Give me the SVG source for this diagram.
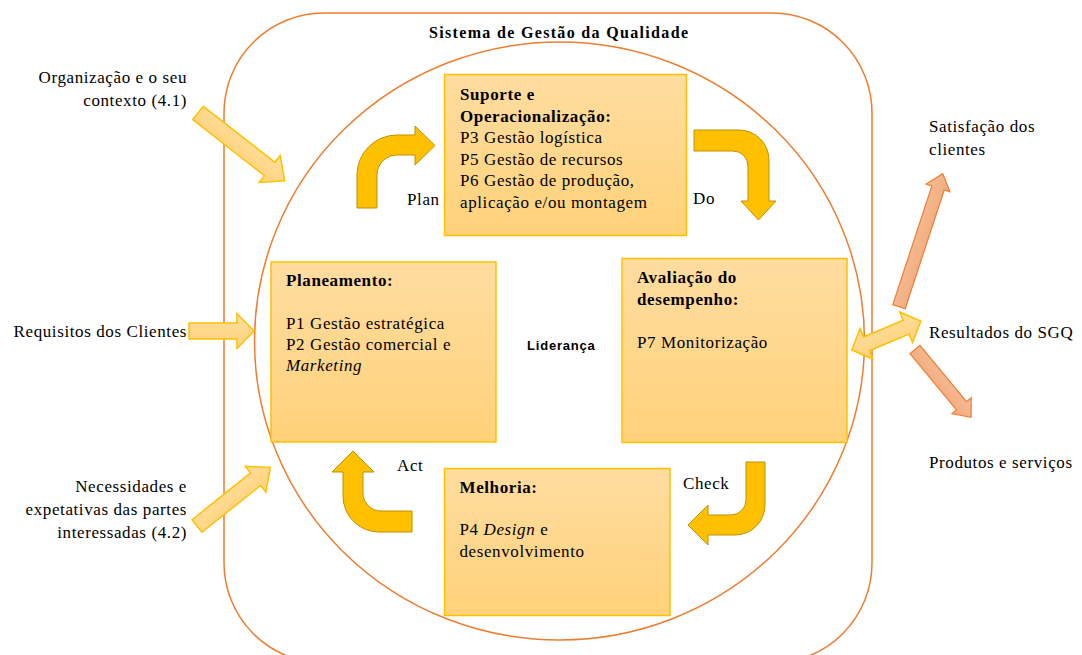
<svg xmlns="http://www.w3.org/2000/svg" width="1082" height="655" viewBox="0 0 1082 655">
  <defs>
    <linearGradient id="boxFill" x1="0" y1="0" x2="0" y2="1">
      <stop offset="0" stop-color="#FFDDA0"/>
      <stop offset="1" stop-color="#FFD27A"/>
    </linearGradient>
    <linearGradient id="inFill" x1="0" y1="0" x2="0" y2="1">
      <stop offset="0" stop-color="#FFDE9C"/>
      <stop offset="1" stop-color="#FFD27C"/>
    </linearGradient>
    <linearGradient id="outFill" x1="0" y1="0" x2="0" y2="1">
      <stop offset="0" stop-color="#F6BC95"/>
      <stop offset="1" stop-color="#F2AA7C"/>
    </linearGradient>
    <style>
      .frame { fill: none; stroke: #ED7D31; stroke-width: 1.5; }
      .box { fill: url(#boxFill); stroke: #FFC000; stroke-width: 1.5; }
      .cycle { fill: #FFC000; stroke: #BF9000; stroke-width: 1; }
      .input { fill: url(#inFill); stroke: #FFC000; stroke-width: 1.5; }
      .output { fill: url(#outFill); stroke: #ED7D31; stroke-width: 1.2; }
      text { font-family: "Liberation Serif", "Times New Roman", serif; font-size: 17px; letter-spacing: 0.6px; fill: #000; }
      .b { font-weight: bold; }
      .i { font-style: italic; }
      .end { text-anchor: end; }
      .title { font-size: 16px; font-weight: bold; letter-spacing: 0; }
      .lead { font-family: "Liberation Sans", Arial, sans-serif; font-size: 13px; font-weight: bold; letter-spacing: 0.8px; }
    </style>
  </defs>

  <!-- system boundary and leadership circle -->
  <g id="system">
    <rect class="frame" x="224" y="13" width="648" height="650" rx="100" ry="100"/>
    <text class="title" x="429" y="38" textLength="259" lengthAdjust="spacing">Sistema de Gestão da Qualidade</text>
  </g>
  <g id="lideranca">
    <ellipse class="frame" cx="559.5" cy="341" rx="305" ry="299"/>
    <text class="lead" x="527" y="350">Liderança</text>
  </g>

  <!-- connectors: PDCA cycle arrows, inputs and outputs -->
  <g id="connectors">
    <path id="plan-arrow" class="cycle" d="M357,208 L357,175 A40,40 0 0 1 397,135 L415,135 L415,126 L435,145.5 L415,165 L415,155 L397,155 A20,20 0 0 0 377,175 L377,208 Z"/>
    <path id="do-arrow" class="cycle" d="M694,130 L739,130 A30,30 0 0 1 769,160 L769,201 L776,201 L758.5,220 L741,201 L748,201 L748,166 A15,15 0 0 0 733,151 L694,151 Z"/>
    <path id="check-arrow" class="cycle" d="M746,462 L765,462 L765,505 A30,30 0 0 1 735,535 L708,535 L708,545 L688,525 L708,505 L708,515 L731,515 A15,15 0 0 0 746,500 Z"/>
    <path id="act-arrow" class="cycle" d="M412,511 L381,511 A18,18 0 0 1 363,493 L363,472 L374,472 L353,451 L332,472 L343,472 L343,496 A36,36 0 0 0 379,532 L412,532 Z"/>

    <path id="in-contexto" class="input" transform="translate(198,113) rotate(38)" d="M0,-8.5 L91,-8.5 L91,-17 L110,0 L91,17 L91,8.5 L0,8.5 Z"/>
    <path id="in-requisitos" class="input" d="M189,323 L237,323 L237,313.5 L254,331 L237,348.5 L237,339 L189,339 Z"/>
    <path id="in-partes" class="input" transform="translate(197,526) rotate(-38.6)" d="M0,-8 L75,-8 L75,-16.5 L94,0 L75,16.5 L75,8 L0,8 Z"/>

    <path id="resultados-link" class="input" transform="translate(851.7,350) rotate(-22.7)" d="M0,0 L16,-16.5 L16,-7.5 L59,-7.5 L59,-16.5 L75,0 L59,16.5 L59,7.5 L16,7.5 L16,16.5 Z"/>

    <path id="out-satisfacao" class="output" transform="translate(899,306.7) rotate(-71.8)" d="M0,-6.5 L125,-6.5 L125,-12.5 L140,0 L125,12.5 L125,6.5 L0,6.5 Z"/>
    <path id="out-produtos" class="output" transform="translate(915,349.5) rotate(50.4)" d="M0,-6.5 L73,-6.5 L73,-12.5 L88,0 L73,12.5 L73,6.5 L0,6.5 Z"/>
  </g>

  <!-- process boxes -->
  <g id="suporte">
    <rect class="box" x="444.5" y="74.5" width="242" height="161"/>
    <text class="b" x="460" y="100">Suporte e</text>
    <text class="b" x="460" y="121.5">Operacionalização:</text>
    <text x="460" y="143">P3 Gestão logística</text>
    <text x="460" y="164.5">P5 Gestão de recursos</text>
    <text x="460" y="186">P6 Gestão de produção,</text>
    <text x="460" y="207.5">aplicação e/ou montagem</text>
  </g>
  <g id="planeamento">
    <rect class="box" x="271" y="262" width="225" height="180"/>
    <text class="b" x="286" y="286">Planeamento:</text>
    <text x="286" y="329">P1 Gestão estratégica</text>
    <text x="286" y="350">P2 Gestão comercial e</text>
    <text class="i" x="286" y="371">Marketing</text>
  </g>
  <g id="avaliacao">
    <rect class="box" x="622" y="258.5" width="225" height="184"/>
    <text class="b" x="637" y="283">Avaliação do</text>
    <text class="b" x="637" y="304.5">desempenho:</text>
    <text x="637" y="348">P7 Monitorização</text>
  </g>
  <g id="melhoria">
    <rect class="box" x="444.5" y="468.5" width="225.5" height="147"/>
    <text class="b" x="459.5" y="493">Melhoria:</text>
    <text x="459.5" y="535">P4 <tspan class="i">Design</tspan> e</text>
    <text x="459.5" y="557">desenvolvimento</text>
  </g>

  <!-- cycle labels -->
  <g id="pdca-labels">
    <text x="407" y="205">Plan</text>
    <text x="693" y="204">Do</text>
    <text x="683" y="489">Check</text>
    <text x="397" y="471">Act</text>
  </g>

  <!-- inputs -->
  <g id="input-contexto">
    <text class="end" x="187" y="83">Organização e o seu</text>
    <text class="end" x="187" y="106">contexto (4.1)</text>
  </g>
  <g id="input-requisitos">
    <text class="end" x="187" y="337">Requisitos dos Clientes</text>
  </g>
  <g id="input-partes">
    <text class="end" x="187" y="492">Necessidades e</text>
    <text class="end" x="187" y="515">expetativas das partes</text>
    <text class="end" x="187" y="538">interessadas (4.2)</text>
  </g>

  <!-- outputs -->
  <g id="output-satisfacao">
    <text x="929" y="132">Satisfação dos</text>
    <text x="929" y="155">clientes</text>
  </g>
  <g id="output-resultados">
    <text x="929" y="338">Resultados do SGQ</text>
  </g>
  <g id="output-produtos">
    <text x="929" y="468">Produtos e serviços</text>
  </g>
</svg>
